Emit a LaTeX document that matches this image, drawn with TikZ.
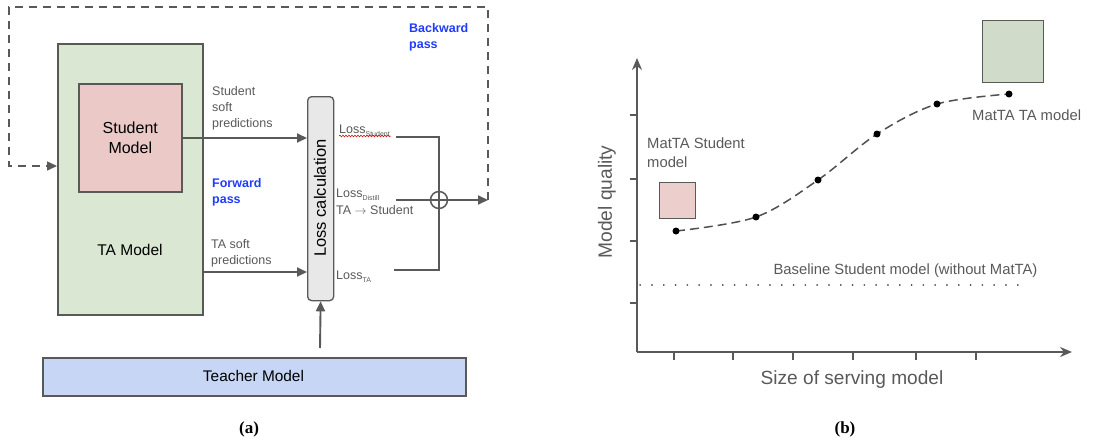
\documentclass[tikz,border=0pt]{standalone}
\usepackage{fontspec}
\setmainfont{Liberation Sans}
\newfontfamily\capfont{Liberation Serif}
\usetikzlibrary{arrows.meta,decorations.pathmorphing}
\definecolor{lg}{HTML}{595959}
\definecolor{taf}{HTML}{D9E7D3}
\definecolor{stf}{HTML}{EBC9C7}
\definecolor{tef}{HTML}{C6D6F4}
\definecolor{lcf}{HTML}{E8E8E8}
\definecolor{bl}{HTML}{1F3BFF}
\definecolor{pk}{HTML}{ECCFCD}
\definecolor{gn}{HTML}{D0DCC9}
\tikzset{
  box/.style={draw=lg,line width=1.6pt,inner sep=0pt},
  conn/.style={draw=lg,line width=1.9pt},
  arr/.style={conn,-{Triangle[length=10pt,width=9pt]}},
  lab/.style={text=lg,font=\fontsize{12.5}{16.3}\selectfont,align=left,inner sep=0pt},
  bluelab/.style={text=bl,font=\fontsize{12.5}{16.5}\selectfont\bfseries,align=left,inner sep=0pt},
  axis/.style={draw=lg,line width=1.9pt,-{Stealth[length=12pt,width=10pt]}},
  tick/.style={draw=lg,line width=1.4pt},
  dot/.style={circle,fill=black,inner sep=0pt,minimum size=7pt},
  plab/.style={text=lg,font=\fontsize{14.8}{19}\selectfont,align=left,inner sep=0pt},
  caplab/.style={font=\capfont\bfseries\fontsize{17}{20}\selectfont,inner sep=0pt},
  squiggle/.style={draw=red!80!black,line width=0.5pt,decorate,decoration={snake,amplitude=0.9pt,segment length=3pt}},
}
\begin{document}
\begin{tikzpicture}[x=1pt,y=-1pt]
\useasboundingbox (0,0) rectangle (1099,442);
% ---------- panel (a) ----------
\node[box,fill=taf,minimum width=145pt,minimum height=271pt,anchor=north west] (ta) at (57,43) {};
\node[font=\fontsize{15.5}{19}\selectfont] (talab) at (130,250) {TA Model};
\node[box,fill=stf,minimum width=103pt,minimum height=108pt,anchor=north west,align=center,font=\fontsize{16}{20}\selectfont] (st) at (78,83) {Student\\Model};
\node[draw=lg,line width=1.3pt,fill=lcf,rounded corners=4pt,minimum width=26pt,minimum height=204pt,anchor=north west] (lc) at (307,96) {};
\node[rotate=90,font=\fontsize{16.5}{20}\selectfont] (lctxt) at (320,198) {Loss calculation};
\node[box,fill=tef,minimum width=423pt,minimum height=38pt,anchor=north west] (te) at (42,357) {};
\node[font=\fontsize{15.4}{19}\selectfont] (tetxt) at (253.5,376) {Teacher Model};

\node[lab,anchor=north west] (ssp) at (212,86) {Student\\soft\\predictions};
\node[lab,anchor=north west] (tsp) at (211,239) {TA soft\\predictions};
\node[bluelab,anchor=north west] (fp) at (212,178) {Forward\\pass};
\node[bluelab,anchor=north west] (bp) at (409,23) {Backward\\pass};

\coordinate (s1) at (181,138);
\coordinate (s2) at (307,138);
\draw[arr] (s1) -- (s2);
\coordinate (t1) at (202,272);
\coordinate (t2) at (307,272);
\draw[arr] (t1) -- (t2);
\coordinate (q1) at (320,348);
\draw[arr] (q1) -- (lc.south);

\node[lab,anchor=base west] (ls) at (339,133) {Loss\raisebox{-3pt}{\fontsize{7}{8}\selectfont Student}};
\coordinate (w1) at (339,136);
\coordinate (w2) at (391,136);
\draw[squiggle] (w1) -- (w2);
\node[lab,anchor=base west] (ld) at (336,197) {Loss\raisebox{-3pt}{\fontsize{7}{8}\selectfont Distill}};
\node[lab,anchor=base west] (ld2) at (336,214) {TA $\rightarrow$ Student};
\node[lab,anchor=base west] (lt) at (336,279) {Loss\raisebox{-3pt}{\fontsize{7}{8}\selectfont TA}};

\node[circle,draw=lg,line width=1.5pt,minimum size=17pt,inner sep=0pt] (sum) at (439,200) {};
\coordinate (a1) at (396,137);
\coordinate (a2) at (439,137);
\coordinate (b1) at (394,270);
\coordinate (b2) at (439,270);
\coordinate (c1) at (396,200);
\coordinate (out) at (488,200);
\draw[conn] (a1) -- (a2) -- (b2) -- (b1);
\draw[conn] (c1) -- (sum.center);
\draw[arr] (sum.center) -- (out);

\coordinate (d1) at (488,7);
\coordinate (d2) at (9,7);
\coordinate (d3) at (9,166);
\draw[draw=lg,line width=1.5pt,dash pattern=on 8pt off 6pt,-{Triangle[length=10pt,width=9pt]}] (out) -- (d1) -- (d2) -- (d3) -- (ta.west |- d3);

\node[caplab] (capa) at (249,429) {(a)};

% ---------- panel (b) ----------
\coordinate (O) at (637,352);
\coordinate (ytop) at (637,58);
\coordinate (xend) at (1072,352);
\draw[axis] (O) -- (ytop);
\draw[axis] (O) -- (xend);
\foreach \yy in {115,179,241,303} \draw[tick] (630,\yy) -- (637,\yy);
\foreach \xx in {674,733,793,853,916,976} \draw[tick] (\xx,352) -- (\xx,360);

\draw[lg,line width=1.6pt,line cap=round,dash pattern=on 0.3pt off 11.5pt] (640,285) -- (1021,285);
\node[plab,anchor=base] (base) at (905.5,274) {Baseline Student model (without MatTA)};

\draw[draw=lg!90!black,line width=1.5pt,dash pattern=on 9pt off 5pt] plot[smooth,tension=0.55] coordinates {(676,231) (756,217) (818,180) (877,134) (937,104) (1009,94)};
\node[dot] (p1) at (676,231) {};
\node[dot] (p2) at (756,217) {};
\node[dot] (p3) at (818,180) {};
\node[dot] (p4) at (877,134) {};
\node[dot] (p5) at (937,104) {};
\node[dot] (p6) at (1009,94) {};

\node[draw=lg,line width=1.3pt,fill=pk,minimum width=36pt,minimum height=36pt,anchor=north west,inner sep=0pt] (ps) at (659,182) {};
\node[draw=lg,line width=1.3pt,fill=gn,minimum width=61pt,minimum height=62pt,anchor=north west,inner sep=0pt] (gs) at (982,20) {};

\node[plab,anchor=base west] (mst) at (647,167) {MatTA Student\\model};
\node[plab,anchor=base west] (mta) at (972,120) {MatTA TA model};

\node[text=lg,font=\fontsize{19.2}{22}\selectfont,rotate=90] (ylab) at (607,202) {Model quality};
\node[text=lg,font=\fontsize{19.1}{22}\selectfont] (xlab) at (852,380) {Size of serving model};

\node[caplab] (capb) at (845,429) {(b)};
\end{tikzpicture}
\end{document}
